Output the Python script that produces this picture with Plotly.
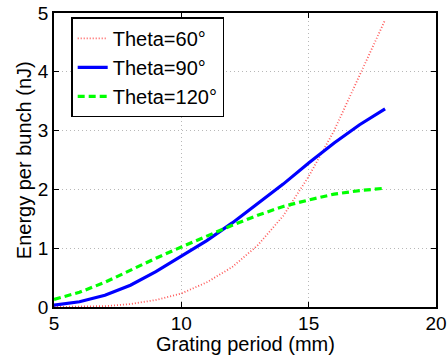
import plotly.graph_objects as go

period = [5, 6, 7, 8, 9, 10, 11, 12, 13, 14, 15, 16, 17, 18]
theta60 = [0.0, 0.003, 0.015, 0.05, 0.12, 0.23, 0.42, 0.68, 1.05, 1.55, 2.22, 3.0, 3.95, 4.88]
theta90 = [0.03, 0.09, 0.2, 0.37, 0.6, 0.86, 1.13, 1.43, 1.76, 2.09, 2.45, 2.79, 3.1, 3.37]
theta120 = [0.13, 0.25, 0.42, 0.63, 0.83, 1.02, 1.21, 1.39, 1.56, 1.71, 1.82, 1.92, 1.98, 2.02]

x_ticks = [5, 10, 15, 20]
y_ticks = [0, 1, 2, 3, 4, 5]
x_title = "Grating period (mm)"
y_title = "Energy per bunch (nJ)"

FONT = "Liberation Sans, Arial, Helvetica, sans-serif"

fig = go.Figure()
fig.add_trace(go.Scatter(x=period, y=theta60, mode="lines", name="Theta=60°",
                         line=dict(color="#ff5a5a", width=1.8, dash="1px,2px")))
fig.add_trace(go.Scatter(x=period, y=theta90, mode="lines", name="Theta=90°",
                         line=dict(color="#0000ff", width=3.2)))
fig.add_trace(go.Scatter(x=period, y=theta120, mode="lines", name="Theta=120°",
                         line=dict(color="#00ff00", width=3.2, dash="7px,4px")))

axis_common = dict(
    showline=True, linecolor="black", linewidth=1.5, mirror="ticks",
    ticks="inside", ticklen=5, tickwidth=1, tickcolor="black",
    showgrid=True, gridcolor="#b8b8b8", gridwidth=1, griddash="1px,3px",
    zeroline=False, tickfont=dict(family=FONT, size=19, color="black"),
    ticklabeloverflow="allow",
)

fig.update_xaxes(range=[5, 20], tickvals=x_ticks, ticktext=[str(v) for v in x_ticks],
                 ticklabelstandoff=-2, **axis_common)
fig.update_yaxes(range=[0, 5], tickvals=y_ticks, ticktext=[str(v) for v in y_ticks], **axis_common)

fig.add_annotation(text=x_title, xref="paper", yref="paper", x=0.5, y=-0.126,
                   xanchor="center", yanchor="middle", showarrow=False,
                   font=dict(family=FONT, size=20, color="black"))
fig.add_annotation(text=y_title, xref="paper", yref="paper", x=-0.078, y=0.5,
                   xanchor="center", yanchor="middle", textangle=-90, showarrow=False,
                   font=dict(family=FONT, size=20, color="black"))

fig.update_layout(
    width=447, height=357,
    margin=dict(l=54, r=11, t=13, b=50, autoexpand=False),
    paper_bgcolor="white", plot_bgcolor="white",
    font=dict(family=FONT, size=20, color="black"),
    legend=dict(x=0.045, y=0.985, xanchor="left", yanchor="top",
                bgcolor="white", bordercolor="black", borderwidth=1.5,
                font=dict(family=FONT, size=20, color="black"),
                itemwidth=30, tracegroupgap=0),
    showlegend=True,
)

fig.write_html("out.html", config={"displayModeBar": False},
               post_script="document.body.style.margin='0';document.body.style.padding='0';")
